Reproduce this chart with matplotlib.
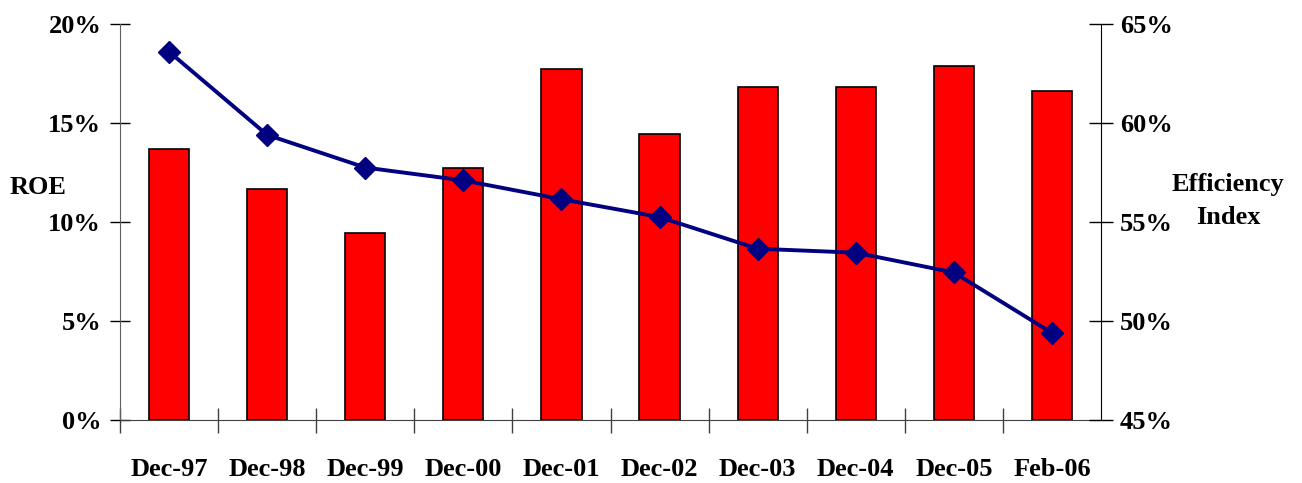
import matplotlib.pyplot as plt
from matplotlib.ticker import FuncFormatter

periods = ['Dec-97', 'Dec-98', 'Dec-99', 'Dec-00', 'Dec-01',
           'Dec-02', 'Dec-03', 'Dec-04', 'Dec-05', 'Feb-06']
roe = [13.7, 11.65, 9.45, 12.75, 17.75, 14.45, 16.8, 16.8, 17.9, 16.6]
efficiency = [63.6, 59.4, 57.75, 57.1, 56.15, 55.25, 53.65, 53.45, 52.45, 49.4]

plt.rcParams['font.family'] = 'Liberation Serif'
plt.rcParams['font.weight'] = 'bold'

fig = plt.figure(figsize=(13.02, 4.83), dpi=100)
ax = fig.add_axes([120 / 1302, 63 / 483, 981 / 1302, 396 / 483])
ax2 = ax.twinx()

x = list(range(len(periods)))
ax.bar(x, roe, width=0.41, color='#ff0000', edgecolor='black', linewidth=1.2, zorder=2)
ax2.plot(x, efficiency, color='#000080', linewidth=2.8, marker='D', markersize=11, zorder=3)

ax.set_xlim(-0.5, len(periods) - 0.5)
ax.set_ylim(0, 20)
ax2.set_ylim(45, 65)
ax.set_yticks([0, 5, 10, 15, 20])
ax2.set_yticks([45, 50, 55, 60, 65])
ax.yaxis.set_major_formatter(FuncFormatter(lambda v, p: f'{v:.0f}%'))
ax2.yaxis.set_major_formatter(FuncFormatter(lambda v, p: f'{v:.0f}%'))

# category labels in the middle, tick marks on the boundaries
ax.set_xticks([i + 0.5 for i in x[:-1]] + [-0.5])
ax.set_xticklabels([])
ax.set_xticks(x, minor=True)
ax.set_xticklabels(periods, minor=True, fontsize=19, fontweight='bold')
ax.tick_params(axis='x', which='minor', length=0, pad=27)
ax.tick_params(axis='x', which='major', direction='inout', length=18, width=1, color='#404040')
ax.tick_params(axis='y', direction='inout', length=15, width=1, labelsize=19, pad=6)
ax2.tick_params(axis='y', direction='inout', length=17, width=1, labelsize=19, pad=5)

ax.spines['top'].set_visible(False)
ax2.spines['top'].set_visible(False)
ax.spines['right'].set_visible(False)
ax.spines['left'].set_color('#606060')
ax.spines['bottom'].set_color('#404040')
ax2.spines['left'].set_visible(False)
ax2.spines['bottom'].set_visible(False)

fig.text(38 / 1302, 1 - 188 / 483, 'ROE', ha='center', va='center', fontsize=19, fontweight='bold')
fig.text(1228 / 1302, 1 - 201 / 483, 'Efficiency\nIndex', ha='center', va='center',
         fontsize=19, fontweight='bold', linespacing=1.5)

fig.savefig('out.png', dpi=100)
